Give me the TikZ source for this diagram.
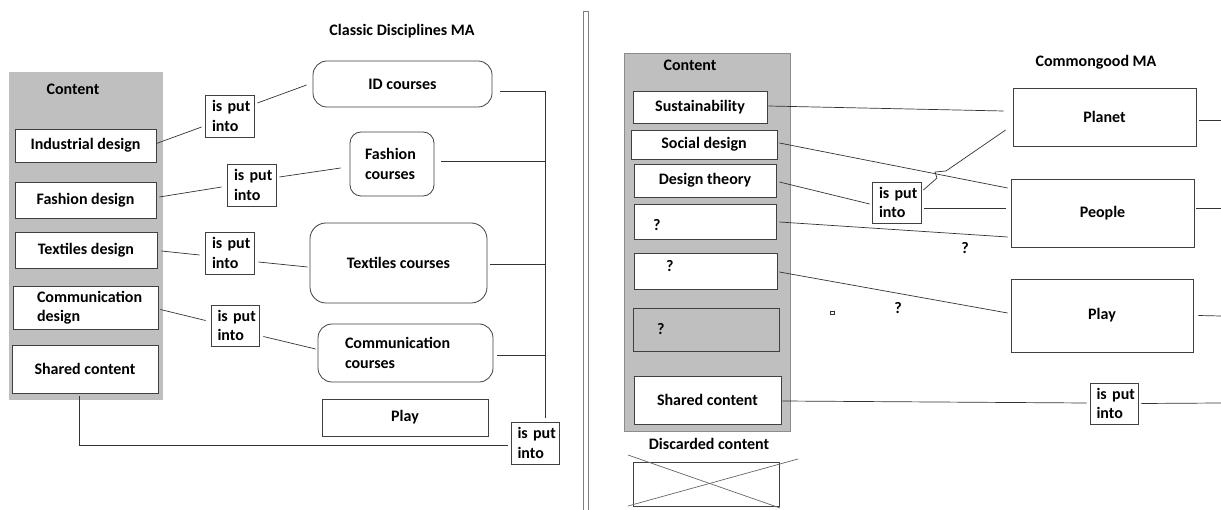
\documentclass[tikz,border=0pt]{standalone}
\usepackage{fontspec}
\setmainfont{Carlito}
\begin{document}
\begin{tikzpicture}[x=1pt,y=-1pt,
  boxst/.style={draw=black!75,line width=0.8pt,fill=white,inner sep=0pt,font=\bfseries\fontsize{16}{19.5}\selectfont,align=center},
  roundst/.style={rounded corners=11pt},
  txt/.style={inner sep=0pt,font=\bfseries\fontsize{16}{19.5}\selectfont},
  conn/.style={draw=black!80,line width=0.7pt},
  putst/.style={align=left,text width=35pt},
  panel/.style={fill=black!25,draw=black!45,line width=0.7pt}]
\newcommand\bx[7][]{\node[boxst,minimum width={(#5-#3)*1pt},minimum height={(#6-#4)*1pt},#1] (#2) at ({(#3+#5)/2},{(#4+#6)/2}) {#7};}
\useasboundingbox (0,0) rectangle (1221,510);
% divider
\draw[draw=black!50,line width=0.8pt,fill=white] (583,515) -- (583,11) -- (588,11) -- (588,515);
% ===== left =====
\node[txt] (t1) at (402,31) {Classic Disciplines MA};
\fill[panel,draw=none] (9,72) rectangle (163,400);
\node[txt] (c1) at (73,89) {Content};
\bx{ind}{15}{129}{156}{162}{Industrial design}
\bx{fd}{15}{182}{156}{218}{Fashion design}
\bx{td}{15}{232}{157}{268}{Textiles design}
\bx[align=left,text width=97pt]{cd}{13}{286}{158}{329}{Communication\\design}
\bx{sc}{12}{345}{158}{393}{Shared content}
\bx[putst]{ip1}{205}{95}{254}{137}{is~put\\into}
\bx[putst]{ip2}{227}{164}{276}{206}{is~put\\into}
\bx[putst]{ip3}{205}{232}{254}{274}{is~put\\into}
\bx[putst]{ip4}{211}{305}{259}{346}{is~put\\into}
\bx[putst]{ip5}{511}{422}{559}{464}{is~put\\into}
\bx[roundst,rounded corners=14pt]{idc}{313}{61}{492}{107}{ID courses}
\bx[roundst,align=left,text width=54pt]{fc}{350}{132}{434}{196}{Fashion\\courses}
\bx[roundst,rounded corners=16pt]{tc}{310}{223}{487}{303}{Textiles courses}
\bx[roundst,rounded corners=14pt,align=left,text width=121pt]{cc}{318}{324}{493}{382}{Communication\\courses}
\bx{pl1}{322}{399}{488}{436}{Play}
\coordinate (bus) at (545,91);
\draw[conn] ([yshift=2pt]ind.east) -- ([yshift=-11pt,xshift=-3pt]ip1.west);
\draw[conn] ([yshift=13pt,xshift=3pt]ip1.east) -- ([yshift=-1pt,xshift=-6pt]idc.west);
\draw[conn] ([yshift=3pt,xshift=3pt]fd.east) -- ([yshift=-2pt,xshift=-5pt]ip2.west);
\draw[conn] ([yshift=8pt,xshift=3pt]ip2.east) -- ([yshift=-4pt,xshift=-9pt]fc.west);
\draw[conn] ([yshift=-1pt,xshift=4pt]td.east) -- ([yshift=-2pt,xshift=-5pt]ip3.west);
\draw[conn] ([yshift=-9pt,xshift=4pt]ip3.east) -- ([yshift=-4pt,xshift=-2pt]tc.west);
\draw[conn] ([yshift=-2pt,xshift=2pt]cd.east) -- ([yshift=5pt,xshift=-5pt]ip4.west);
\draw[conn] ([yshift=-11pt,xshift=4pt]ip4.east) -- ([yshift=4pt,xshift=-2pt]cc.west);
\draw[conn] ([xshift=-6pt,yshift=-3pt]sc.south) |- ([yshift=-2pt,xshift=-3pt]ip5.west);
\draw[conn] (bus) -- ([xshift=10pt,yshift=4pt]ip5.north);
\draw[conn] ([xshift=8pt,yshift=-7pt]idc.east) -- (bus);
\draw[conn] ([xshift=7pt,yshift=3pt]fc.east) coordinate (f1) -- (f1 -| bus);
\draw[conn] ([xshift=3pt,yshift=-1pt]tc.east) coordinate (f2) -- (f2 -| bus);
\draw[conn] ([xshift=4pt,yshift=-2pt]cc.east) coordinate (f3) -- (f3 -| bus);
% ===== right =====
\node[txt] (t2) at (1096,62) {Commongood MA};
\fill[panel] (624,53) rectangle (790,431);
\node[txt] (c2) at (690,65) {Content};
\bx{sus}{633}{91}{767}{123}{Sustainability}
\bx{soc}{631}{130}{777}{159}{Social design}
\bx{dt}{634}{164}{776}{197}{Design theory}
\bx[align=left,text width=104pt]{q1}{634}{204}{776}{239}{\raisebox{-5pt}[9pt][1pt]{?}}
\bx[align=left,text width=79pt]{q2}{634}{253}{777}{289}{\raisebox{3pt}[9pt][1pt]{?}}
\bx[fill=black!25,align=left,text width=98pt]{q3}{633}{308}{779}{351}{\raisebox{-1pt}[9pt][1pt]{?}}
\bx{shr}{634}{376}{781}{424}{Shared content}
\node[txt] (dc) at (709,444) {Discarded content};
\node[draw=black!75,line width=0.8pt,inner sep=0pt,minimum width=146pt,minimum height=44pt] (disc) at (706,484) {};
\draw[draw=black!60,line width=0.7pt] (628,455) -- (780,508);
\draw[draw=black!60,line width=0.7pt] (628,506) -- (798,459);
\bx{planet}{1013}{88}{1196}{146}{Planet}
\bx{people}{1011}{179}{1194}{247}{People}
\bx{play2}{1011}{279}{1193}{352}{Play}
\bx[putst]{ipr}{872}{182}{921}{223}{is~put\\into}
\bx[putst]{ipb}{1090}{383}{1138}{424}{is~put\\into}
\node[txt] (qa) at (965,248) {?};
\node[txt] (qb) at (898,308) {?};
\node[draw=black!80,line width=0.6pt,inner sep=0pt,minimum width=4pt,minimum height=3pt] (sq) at (832,313) {};
\coordinate (e1) at (1221,120);
\coordinate (e2) at (1221,208);
\coordinate (e3) at (1221,316);
\coordinate (e4) at (1221,403);
\draw[conn] ([yshift=1pt,xshift=1pt]sus.east) -- ([yshift=6pt,xshift=-9pt]planet.west);
\draw[conn] ([yshift=1.5pt,xshift=2pt]soc.east) -- ([yshift=25pt,xshift=-3pt]people.west);
\draw[conn] ([yshift=-1.5pt,xshift=3pt]dt.east) -- ([yshift=-1.5pt,xshift=-2pt]ipr.west);
\draw[conn] ([yshift=12.5pt,xshift=2pt]ipr.east) -- (937,178) -- (935,172) -- (946,171) -- ([yshift=-13pt,xshift=-7pt]planet.west);
\draw[conn] ([yshift=-5.5pt,xshift=3pt]ipr.east) -- ([yshift=5pt,xshift=-5pt]people.west);
\draw[conn] ([yshift=-0.5pt,xshift=3pt]q1.east) -- ([yshift=-24pt,xshift=-3pt]people.west);
\draw[conn] ([yshift=-1pt,xshift=2pt]q2.east) -- ([yshift=2.5pt,xshift=-3pt]play2.west);
\draw[conn] ([yshift=-1pt,xshift=1pt]shr.east) -- ([yshift=0.5pt,xshift=-3pt]ipb.west);
\draw[conn] ([xshift=3pt]ipb.east) -- (e4);
\draw[conn] ([xshift=3pt,yshift=-3pt]planet.east) -- (e1);
\draw[conn] ([xshift=2pt,yshift=5pt]people.east) -- (e2);
\draw[conn] ([xshift=5pt]play2.east) -- (e3);
\end{tikzpicture}
\end{document}
